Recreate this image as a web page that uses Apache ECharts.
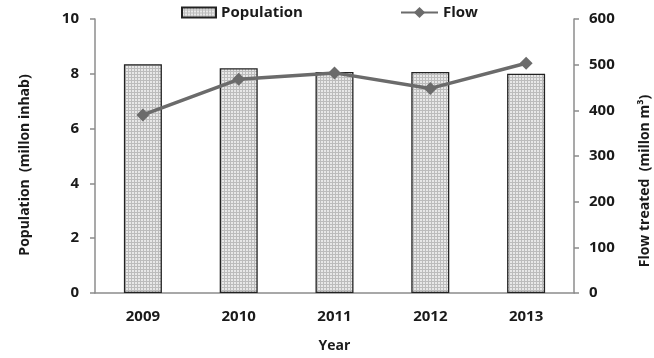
<!DOCTYPE html>
<html>
<head>
<meta charset="utf-8">
<script src="https://cdn.jsdelivr.net/npm/echarts@6/dist/echarts.min.js"></script>
<style>
  html, body { margin: 0; padding: 0; background: #fff; }
  #chart { width: 654px; height: 358px; }
</style>
</head>
<body>
<div id="chart"></div>
<script>
// Yearly population and treated flow
const years = ['2009', '2010', '2011', '2012', '2013'];
const population = [8.35, 8.2, 8.07, 8.07, 8.0];   // million inhabitants
const flow = [390, 468, 482, 448, 503];            // million m3
const popTicks = [0, 2, 4, 6, 8, 10];
const flowTicks = [0, 100, 200, 300, 400, 500, 600];

// Fine dotted grey fill for the bars
function dotPattern() {
  const c = document.createElement('canvas');
  c.width = 3; c.height = 3;
  const g = c.getContext('2d');
  g.fillStyle = '#bcbcbc';
  g.fillRect(0, 0, 3, 3);
  g.fillStyle = '#e8e8e8';
  g.fillRect(0, 0, 2, 2);
  return c;
}

const font = 'Open Sans';
const ink = '#1a1a1a';
const axisColor = '#8c8c8c';
const labelStyle = { color: ink, fontFamily: font, fontWeight: 'bold', fontSize: 15 };
const nameStyle = { fill: ink, font: 'bold 14px "Open Sans"', align: 'center', verticalAlign: 'middle' };

const chart = echarts.init(document.getElementById('chart'));
chart.setOption({
  animation: false,
  textStyle: { fontFamily: font },
  legend: [
    {
      data: [{ name: 'Population', icon: 'rect' }],
      left: 181, top: 5, padding: 0,
      itemWidth: 34, itemHeight: 10, itemGap: 4,
      textStyle: { color: ink, fontFamily: font, fontWeight: 'bold', fontSize: 15 }
    },
    {
      data: ['Flow'],
      left: 400, top: 5, padding: 0,
      itemWidth: 37, itemHeight: 14, itemGap: 1,
      textStyle: { color: ink, fontFamily: font, fontWeight: 'bold', fontSize: 15 }
    }
  ],
  grid: { left: 95, right: 80, top: 19, bottom: 65, containLabel: false },
  graphic: [
    {
      type: 'text', x: 25, y: 165, rotation: Math.PI / 2,
      style: Object.assign({ text: 'Population  (millon inhab)' }, nameStyle)
    },
    {
      type: 'text', x: 645, y: 181, rotation: Math.PI / 2,
      style: Object.assign({ text: 'Flow treated  (millon m³)' }, nameStyle)
    }
  ],
  xAxis: {
    type: 'category',
    data: years,
    name: 'Year',
    nameLocation: 'middle',
    nameGap: 46,
    nameTextStyle: { color: ink, fontFamily: font, fontWeight: 'bold', fontSize: 14 },
    axisLine: { lineStyle: { color: axisColor, width: 1.5 } },
    axisTick: { length: 5, lineStyle: { color: axisColor, width: 1.5 } },
    axisLabel: Object.assign({ margin: 16 }, labelStyle)
  },
  yAxis: [
    {
      type: 'value',
      min: popTicks[0], max: popTicks[popTicks.length - 1], interval: 2,
      axisLine: { show: true, lineStyle: { color: axisColor, width: 1.5 } },
      axisTick: { show: true, length: 5, lineStyle: { color: axisColor, width: 1.5 } },
      splitLine: { show: false },
      axisLabel: Object.assign({ margin: 16 }, labelStyle)
    },
    {
      type: 'value',
      position: 'right',
      min: flowTicks[0], max: flowTicks[flowTicks.length - 1], interval: 100,
      axisLine: { show: true, lineStyle: { color: axisColor, width: 1.5 } },
      axisTick: { show: true, length: 5, lineStyle: { color: axisColor, width: 1.5 } },
      splitLine: { show: false },
      axisLabel: Object.assign({ margin: 15 }, labelStyle)
    }
  ],
  series: [
    {
      name: 'Population',
      type: 'bar',
      yAxisIndex: 0,
      data: population,
      barWidth: 38,
      itemStyle: {
        color: { image: dotPattern(), repeat: 'repeat' },
        borderColor: '#222',
        borderWidth: 1.3
      }
    },
    {
      name: 'Flow',
      type: 'line',
      yAxisIndex: 1,
      data: flow,
      symbol: 'diamond',
      symbolSize: 13,
      lineStyle: { color: '#6b6b6b', width: 3.5 },
      itemStyle: { color: '#6b6b6b' }
    }
  ]
});
</script>
</body>
</html>
